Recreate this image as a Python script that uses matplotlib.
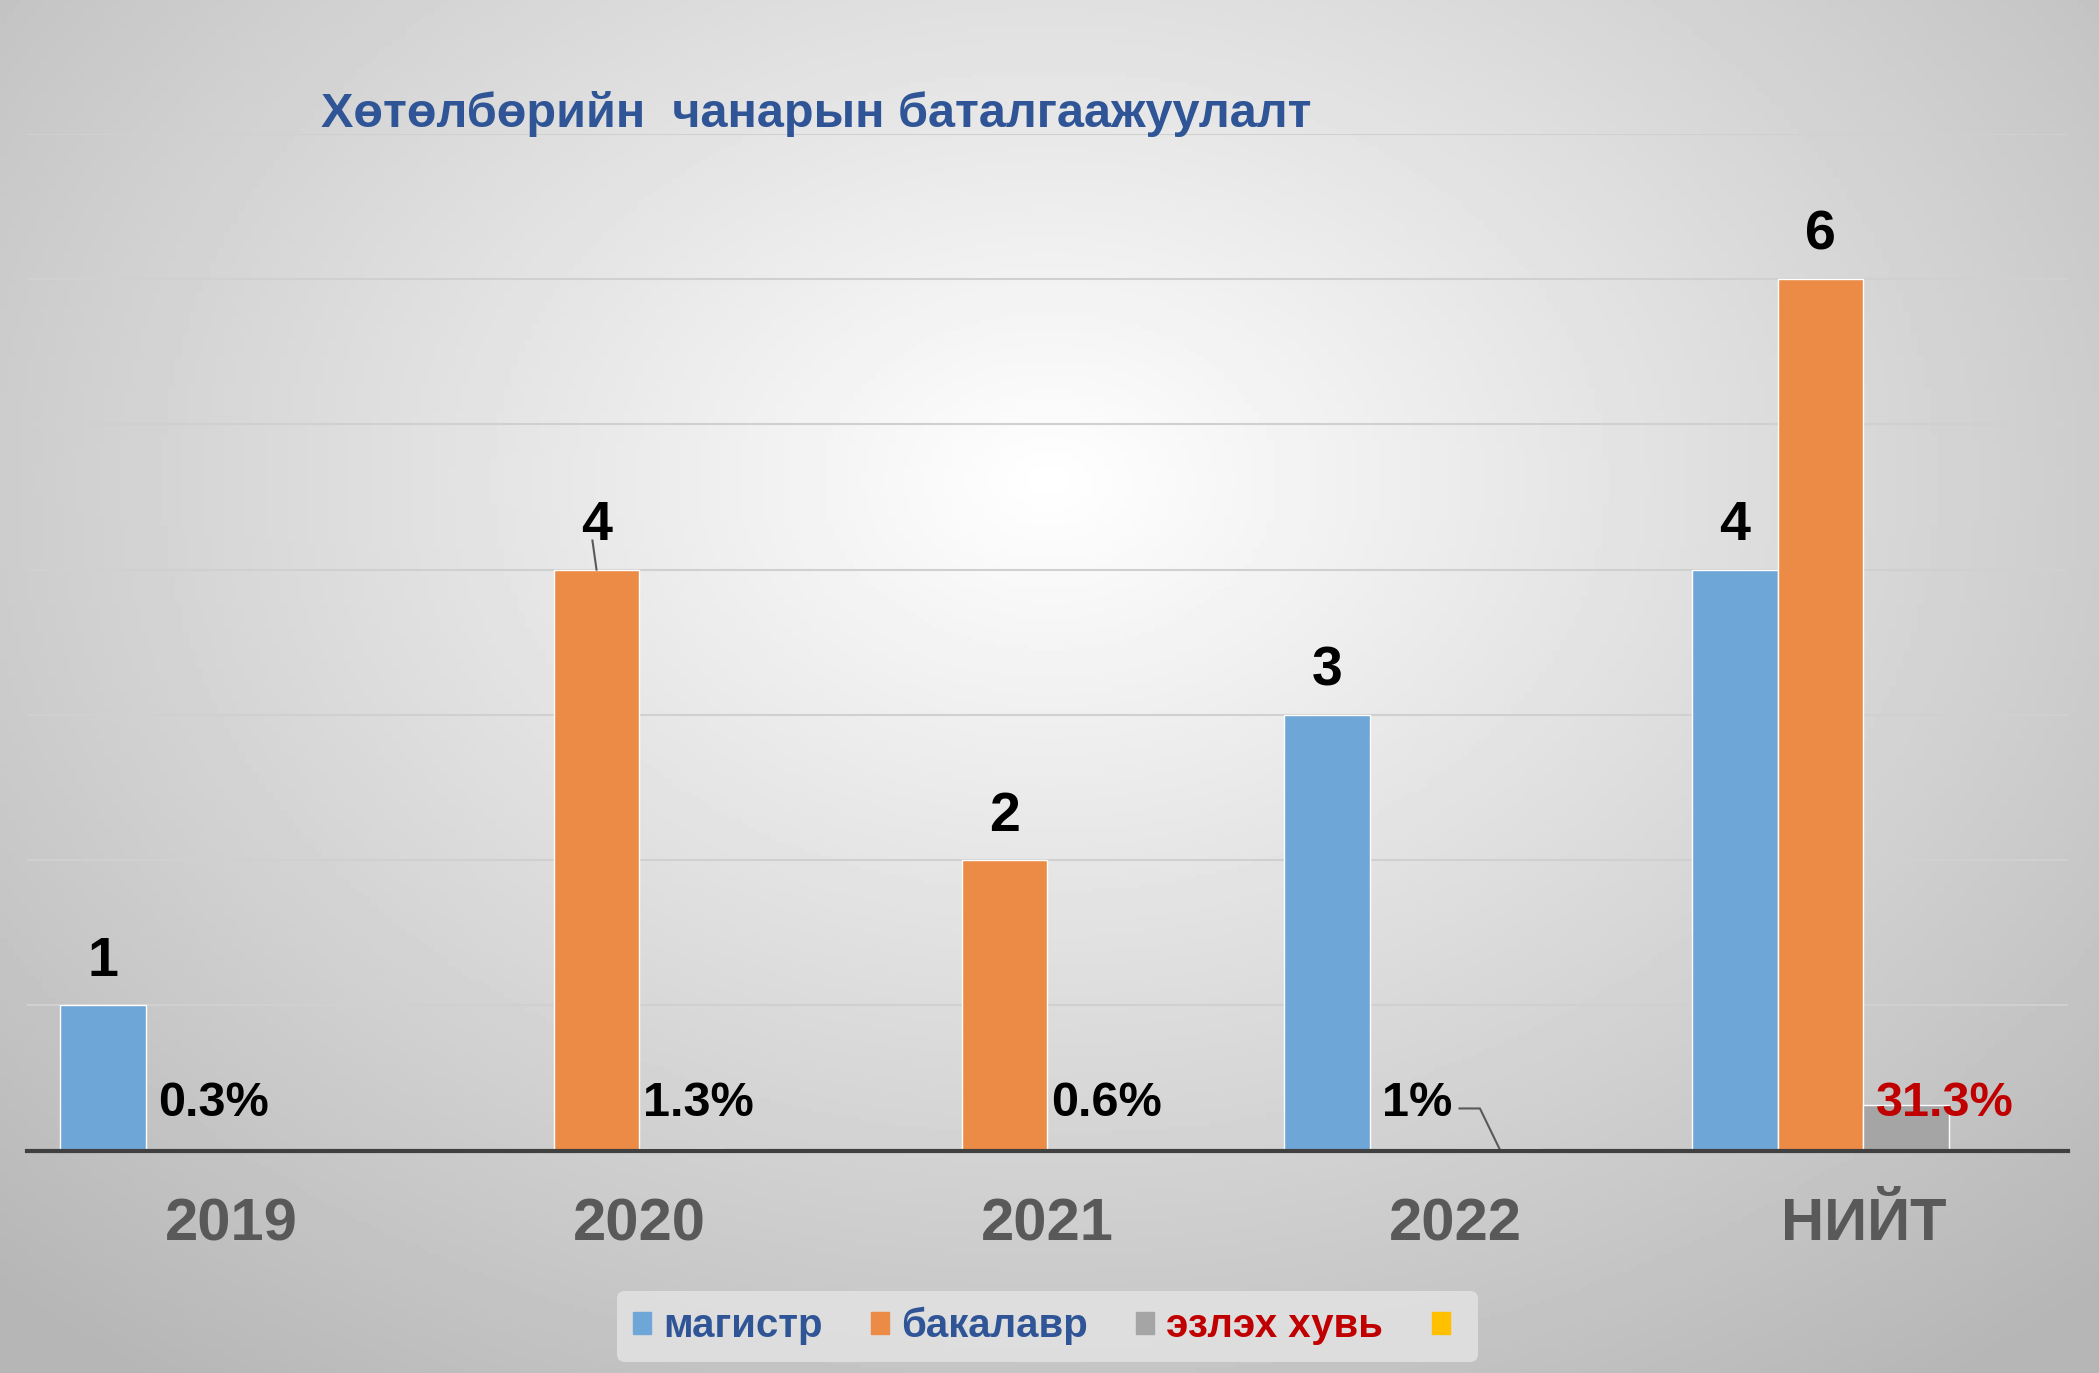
import numpy as np
import matplotlib
matplotlib.use("Agg")
import matplotlib.pyplot as plt
from matplotlib.patches import Patch

plt.rcParams["font.family"] = ["Liberation Sans", "DejaVu Sans"]

categories = ["2019", "2020", "2021", "2022", "НИЙТ"]
magistr = [1, 0, 0, 3, 4]
bakalavr = [0, 4, 2, 0, 6]
share_pct = [0.3, 1.3, 0.6, 1.0, 31.3]
share_labels = ["0.3%", "1.3%", "0.6%", "1%", "31.3%"]
series_names = ["магистр", "бакалавр", "эзлэх хувь", ""]

BLUE, ORANGE, GRAY, YELLOW = "#6FA6D8", "#EC8B46", "#A5A5A5", "#FFC000"

fig = plt.figure(figsize=(20.99, 13.73), dpi=100)

# soft radial grey background
bg = fig.add_axes([0, 0, 1, 1], zorder=0)
yy, xx = np.mgrid[-1:1:300j, -1:1:300j]
r = np.sqrt((xx * 0.9) ** 2 + ((yy + 0.3) * 0.8) ** 2)
bg.imshow(1 - 0.22 * np.clip(r, 0, 1.3), cmap="gray", vmin=0, vmax=1,
          aspect="auto", extent=[0, 1, 0, 1])
bg.axis("off")

ax = fig.add_axes([0.013, 0.162, 0.972, 0.7405], zorder=1)
ax.patch.set_alpha(0)
x = np.arange(len(categories))
w = 0.21
shares = [p / 100 for p in share_pct]
ax.bar(x - 1.5 * w, magistr, w, color=BLUE, edgecolor="white", linewidth=1)
ax.bar(x - 0.5 * w, bakalavr, w, color=ORANGE, edgecolor="white", linewidth=1)
ax.bar(x + 0.5 * w, shares, w, color=GRAY, edgecolor="white", linewidth=1)

last = len(categories) - 1
for i in range(len(categories)):
    if magistr[i]:
        ax.text(x[i] - 1.5 * w, magistr[i] + 0.12, str(magistr[i]), ha="center",
                va="bottom", fontsize=40, fontweight="bold")
    if bakalavr[i]:
        ax.text(x[i] - 0.5 * w, bakalavr[i] + 0.12, str(bakalavr[i]), ha="center",
                va="bottom", fontsize=40, fontweight="bold")
    # percentage label sits right after the last visible bar of the group
    if i == last:
        lx = x[i] + 0.03
    elif bakalavr[i]:
        lx = x[i] + 0.01
    else:
        lx = x[i] - w + 0.03
    col = "#C00000" if i == last else "black"
    ax.text(lx, 0.17, share_labels[i], ha="left", va="bottom",
            fontsize=35, fontweight="bold", color=col)
# leader lines
ax.plot([x[3] + 0.01, x[3] + 0.06, x[3] + 0.11], [0.29, 0.29, 0.0], color="#595959", lw=1.5)
ax.plot([x[1] - 0.5 * w - 0.01, x[1] - 0.5 * w], [4.2, 4.0], color="#595959", lw=1.5)

ax.set_xlim(-0.5, len(categories) - 0.5)
ax.set_ylim(0, 7)
ax.set_yticks(range(1, 8))
ax.grid(axis="y", color="#D0D0D0", lw=1.5)
ax.set_axisbelow(True)
ax.tick_params(left=False, labelleft=False, bottom=False)
for s in ["left", "right", "top"]:
    ax.spines[s].set_visible(False)
ax.spines["bottom"].set_color("#404040")
ax.spines["bottom"].set_linewidth(3)
ax.set_xticks(x)
ax.set_xticklabels(categories, fontsize=43, fontweight="bold", color="#595959")
ax.tick_params(axis="x", pad=30)

fig.text(0.153, 0.917, "Хөтөлбөрийн  чанарын баталгаажуулалт", fontsize=35,
         fontweight="bold", color="#2F5597", va="center", ha="left")

handles = [Patch(color=c) for c in (BLUE, ORANGE, GRAY, YELLOW)]
leg = fig.legend(handles, series_names, loc="center", bbox_to_anchor=(0.499, 0.034),
                 ncol=4, fontsize=29, frameon=True, handlelength=0.45, handleheight=0.45,
                 columnspacing=1.2, handletextpad=0.3)
leg.get_frame().set_facecolor("#E4E4E4")
leg.get_frame().set_edgecolor("none")
for t, c in zip(leg.get_texts(), ["#2F5597", "#2F5597", "#C00000", "black"]):
    t.set_color(c)
    t.set_fontweight("bold")

fig.savefig("out.png", dpi=100)
